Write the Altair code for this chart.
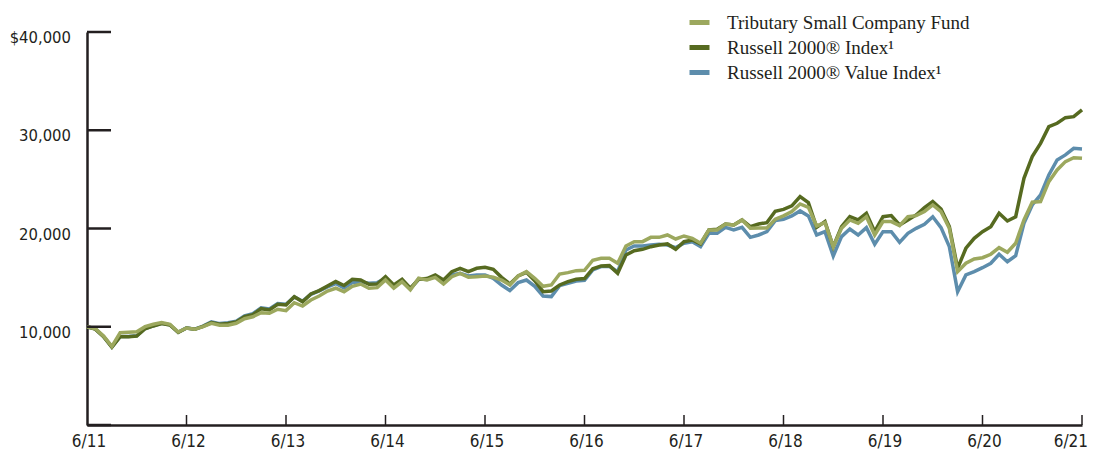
import altair as alt
import pandas as pd

# ---- data (monthly, 6/2011 .. 6/2021, growth of $10,000) ----
fund = [10000, 9800, 9050, 8000, 9400, 9450, 9500, 10010, 10250, 10420,
        10250, 9470, 9870, 9740, 10010, 10350, 10150, 10160, 10350, 10820,
        11020, 11430, 11370, 11780, 11640, 12450, 12110, 12720, 13130, 13640,
        13920, 13570, 14120, 14350, 13920, 13980, 14760, 13920, 14590, 13750,
        14930, 14760, 15030, 14350, 15100, 15440, 15030, 15100, 15170, 15030,
        14760, 14250, 15170, 15610, 14930, 14120, 14250, 15370, 15510, 15710,
        15740, 16770, 16970, 16970, 16460, 18220, 18660, 18660, 19100, 19100,
        19340, 18930, 19240, 19000, 18500, 19850, 19850, 20460, 20360, 20870,
        20020, 20060, 20060, 20940, 21280, 21720, 22500, 22160, 20260, 20600,
        18150, 20020, 20870, 20530, 21200, 19340, 20700, 20700, 20290, 21200,
        21310, 21720, 22400, 21720, 20020, 15610, 16460, 16900, 17030, 17380,
        18050, 17580, 18500, 20870, 22670, 22740, 24770, 25960, 26810, 27210,
        27140]
russell = [10000, 9760, 8990, 7910, 8980, 8990, 9060, 9800, 10080, 10330,
           10180, 9420, 9870, 9740, 10030, 10420, 10260, 10330, 10480, 11020,
           11230, 11840, 11710, 12290, 12220, 13060, 12550, 13340, 13680, 14150,
           14600, 14200, 14830, 14760, 14320, 14350, 15100, 14250, 14830, 13920,
           14830, 14900, 15270, 14760, 15610, 15950, 15610, 15950, 16050, 15850,
           15030, 14350, 15170, 15540, 14690, 13570, 13640, 14250, 14590, 14830,
           14900, 15900, 16190, 16220, 15440, 17300, 17740, 17880, 18150, 18320,
           18430, 17880, 18660, 18830, 18430, 19850, 19920, 20460, 20360, 20870,
           20190, 20460, 20600, 21760, 21950, 22300, 23240, 22630, 20120, 20700,
           18150, 20190, 21200, 20870, 21550, 19680, 21200, 21310, 20360, 20870,
           21380, 22120, 22740, 21990, 20190, 15950, 17990, 19000, 19680, 20190,
           21550, 20770, 21200, 25110, 27320, 28670, 30370, 30710, 31280, 31380,
           32070]
value = [10000, 9780, 9000, 7950, 9000, 9010, 9080, 9820, 10100, 10350,
         10200, 9440, 9880, 9750, 10060, 10500, 10320, 10400, 10560, 11120,
         11340, 11920, 11800, 12360, 12280, 13040, 12600, 13300, 13650, 14050,
         14400, 13950, 14500, 14560, 14420, 14490, 14930, 14120, 14700, 13850,
         14850, 14800, 15100, 14660, 15270, 15440, 15170, 15270, 15270, 14930,
         14250, 13680, 14490, 14760, 14120, 13130, 13070, 14180, 14420, 14660,
         14730, 15780, 16120, 16150, 15600, 17810, 18220, 18220, 18320, 18390,
         18320, 18050, 18500, 18660, 18150, 19510, 19510, 20120, 19850, 20120,
         19100, 19340, 19680, 20800, 20940, 21280, 21790, 21280, 19340, 19680,
         17200, 19170, 19950, 19340, 20090, 18400, 19680, 19680, 18590, 19510,
         20020, 20430, 21200, 20090, 18150, 13570, 15270, 15610, 16010, 16460,
         17380, 16620, 17240, 20530, 22400, 23410, 25450, 26980, 27490, 28160,
         28100]

series_names = ["Tributary Small Company Fund",
                "Russell 2000\u00ae Index\u00b9",
                "Russell 2000\u00ae Value Index\u00b9"]
colors = ["#9ca85e", "#566a20", "#5d8dac"]
year_labels = ["6/11", "6/12", "6/13", "6/14", "6/15", "6/16",
               "6/17", "6/18", "6/19", "6/20", "6/21"]
year_months = [0, 12, 24, 36, 48, 60, 72, 84, 96, 108, 120]
y_ticks = [0, 10000, 20000, 30000, 40000]
y_label_values = [10000, 20000, 30000, 40000]
y_label_texts = ["10,000", "20,000", "30,000", "$40,000"]

rows = []
for name, vals in [(series_names[2], value), (series_names[1], russell), (series_names[0], fund)]:
    for i, v in enumerate(vals):
        rows.append({"m": i, "v": v, "s": name})
df = pd.DataFrame(rows)

W, H = 995, 393
INK = "#231f20"
SANS = "DejaVu Sans Condensed, Liberation Sans Narrow, sans-serif"
SERIF = "Liberation Serif, DejaVu Serif, serif"

x_scale = alt.Scale(domain=[0, 120], nice=False, zero=False)
y_scale = alt.Scale(domain=[0, 40000], nice=False)

x_axis = alt.Axis(values=year_months, labels=False,
                  ticks=False, grid=False, title=None,
                  domainWidth=2.5, domainColor=INK)
y_axis = alt.Axis(values=y_label_values, labels=False,
                  ticks=False, grid=False, title=None,
                  domainWidth=2.5, domainColor=INK)

lines = alt.Chart(df).mark_line(strokeWidth=3.5, strokeJoin="miter").encode(
    x=alt.X("m:Q", scale=x_scale, axis=x_axis),
    y=alt.Y("v:Q", scale=y_scale, axis=y_axis),
    color=alt.Color("s:N", scale=alt.Scale(domain=series_names, range=colors),
                    legend=alt.Legend(orient="none", legendX=600, legendY=-22,
                                      title=None, symbolType="stroke",
                                      symbolStrokeWidth=5, symbolSize=400,
                                      labelFont=SERIF, labelFontSize=19,
                                      labelColor=INK, rowPadding=2, padding=0,
                                      labelOffset=15, labelLimit=500)),
)

ytick_df = pd.DataFrame({"v": y_ticks})
yticks = alt.Chart(ytick_df).mark_rule(strokeWidth=2.5, color=INK).encode(
    y=alt.Y("v:Q", scale=y_scale, axis=y_axis),
    x=alt.value(0), x2=alt.value(24))

ylab_df = pd.DataFrame({"v": y_label_values, "t": y_label_texts})
ylabels = alt.Chart(ylab_df).mark_text(
    align="right", baseline="middle", dx=-16, dy=6,
    font=SANS, fontSize=16.5, color=INK).encode(
    y=alt.Y("v:Q", scale=y_scale, axis=y_axis),
    x=alt.value(0),
    text="t:N")

xtick_df = pd.DataFrame({"m": year_months[1:]})
xticks = alt.Chart(xtick_df).mark_rule(strokeWidth=1.5, color=INK).encode(
    x=alt.X("m:Q", scale=x_scale, axis=x_axis),
    y=alt.value(H), y2=alt.value(H - 10))

xlab_df = pd.DataFrame({"m": year_months, "t": year_labels})
xlabels_mid = alt.Chart(xlab_df[:-1]).mark_text(
    align="center", baseline="alphabetic", dx=2,
    font=SANS, fontSize=17, color=INK).encode(
    x=alt.X("m:Q", scale=x_scale, axis=x_axis),
    y=alt.value(H + 22),
    text="t:N")
xlabels_end = alt.Chart(xlab_df[-1:]).mark_text(
    align="right", baseline="alphabetic", dx=6,
    font=SANS, fontSize=17, color=INK).encode(
    x=alt.X("m:Q", scale=x_scale, axis=x_axis),
    y=alt.value(H + 22),
    text="t:N")

chart = alt.layer(lines, yticks, ylabels, xticks, xlabels_mid, xlabels_end).properties(
    width=W, height=H,
    autosize=alt.AutoSizeParams(type="none"),
    padding={"left": 79, "top": 24, "right": 6, "bottom": 27},
    background="white",
).configure_view(stroke=None)

chart.save("out.html", embed_options={"renderer": "svg", "actions": False})
